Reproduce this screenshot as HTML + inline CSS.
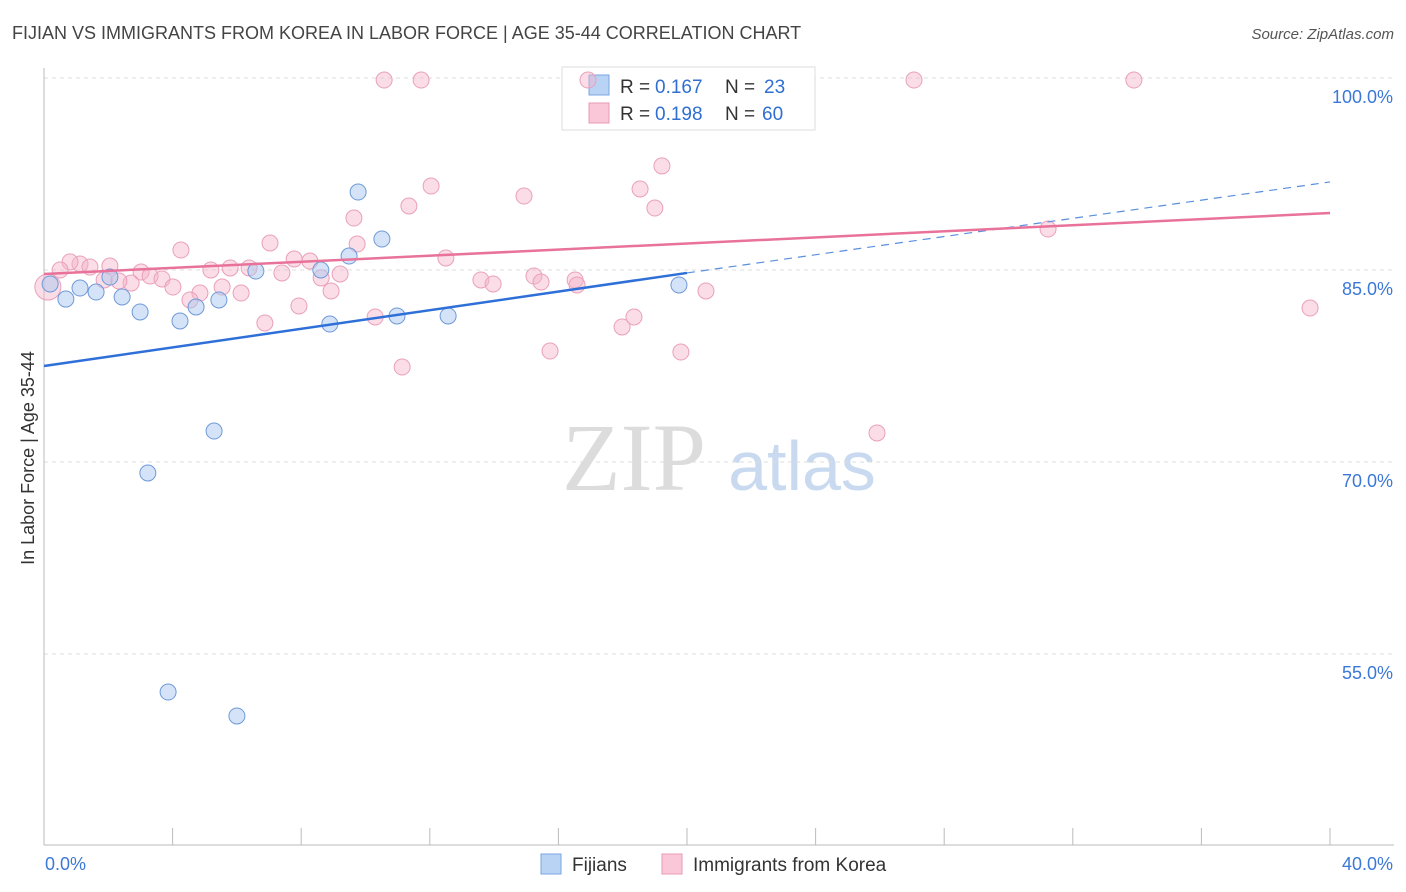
<!DOCTYPE html>
<html><head><meta charset="utf-8"><style>
body{margin:0;background:#fff;font-family:"Liberation Sans",sans-serif}
svg{display:block}
</style></head><body>
<svg id="chart" width="1406" height="892" viewBox="0 0 1406 892" xmlns="http://www.w3.org/2000/svg">
<text x="12" y="39" font-size="18" fill="#444">FIJIAN VS IMMIGRANTS FROM KOREA IN LABOR FORCE | AGE 35-44 CORRELATION CHART</text>
<text x="1394" y="39" font-size="15" fill="#555" text-anchor="end" font-style="italic">Source: ZipAtlas.com</text>
<g>
<text x="634" y="490" font-size="96" fill="#dcdcdc" text-anchor="middle" font-family="Liberation Serif, serif">ZIP</text>
<text x="802" y="490" font-size="70" fill="#c9daf0" text-anchor="middle">atlas</text>
</g>
<g id="grid"></g>
<g id="axes"></g>
<g>
<rect x="562" y="67" width="253" height="63" fill="#fff" stroke="#ddd"/>
<rect x="589" y="75" width="20" height="20" fill="#b9d3f5" stroke="#7aa6e0"/>
<rect x="589" y="103" width="20" height="20" fill="#f9c7d7" stroke="#e89ab4"/>
<text x="620" y="93" font-size="19" fill="#333">R =</text>
<text x="655" y="93" font-size="19" fill="#2f6fd1">0.167</text>
<text x="725" y="93" font-size="19" fill="#333">N =</text>
<text x="764" y="93" font-size="19" fill="#2f6fd1">23</text>
<text x="620" y="120" font-size="19" fill="#333">R =</text>
<text x="655" y="120" font-size="19" fill="#2f6fd1">0.198</text>
<text x="725" y="120" font-size="19" fill="#333">N =</text>
<text x="762" y="120" font-size="19" fill="#2f6fd1">60</text>
</g>
<g id="marks"></g>
<text transform="translate(34,458) rotate(-90)" font-size="18" fill="#333" text-anchor="middle">In Labor Force | Age 35-44</text>
<g>
<rect x="541" y="854" width="20" height="20" fill="#b9d3f5" stroke="#7aa6e0"/>
<text x="572" y="871" font-size="19" fill="#333">Fijians</text>
<rect x="662" y="854" width="20" height="20" fill="#f9c7d7" stroke="#e89ab4"/>
<text x="693" y="871" font-size="19" fill="#333">Immigrants from Korea</text>
</g>
</svg>
<script>
const xTicks=[0,4,8,12,16,20,24,28,32,36,40];
const yTicks=[100,85,70,55];
const yTickLabels=["100.0%","85.0%","70.0%","55.0%"];
const xEndLabels=["0.0%","40.0%"];
const fijianX=[0.68,1.12,1.62,2.05,2.43,2.99,4.23,4.73,5.29,3.23,3.86,6.0,5.44,6.59,8.61,8.89,9.49,9.77,10.51,10.98,12.57,19.75,0.19];
const fijianY=[82.73,83.59,83.28,84.45,82.89,81.72,81.02,82.11,72.42,69.14,52.03,50.16,82.66,84.92,85.0,80.78,86.09,91.09,87.42,81.41,81.41,83.83,83.91];
const koreaX=[10.58,11.73,16.92,27.06,33.9,12.04,19.22,18.54,14.93,19.0,11.35,9.64,9.74,7.03,4.26,12.5,7.78,8.27,6.38,5.79,5.19,2.05,1.12,1.43,0.81,0.5,3.02,3.30,3.67,2.71,2.33,4.01,4.85,5.54,6.13,4.54,7.40,8.62,9.21,8.93,7.93,6.87,10.30,11.14,13.59,13.97,15.24,15.46,16.52,16.58,18.35,17.98,15.74,19.81,20.59,25.91,31.23,39.38,0.12,1.87];
const koreaY=[99.84,99.84,99.84,99.84,99.84,91.56,93.13,91.33,90.78,89.84,90.0,89.06,87.03,87.11,86.56,85.94,85.86,85.70,85.16,85.16,85.0,85.31,85.47,85.23,85.63,85.0,84.84,84.53,84.3,83.98,84.14,83.67,83.2,83.67,83.2,82.66,84.77,84.38,84.69,83.36,82.19,80.86,81.33,77.42,84.22,83.91,84.53,84.06,84.22,83.83,81.33,80.55,78.67,78.59,83.36,72.27,88.2,82.03,83.67,84.22];
const fijianTrend=[[0,77.5],[20,84.77]];
const fijianTrendExt=[[20,84.77],[40,91.88]];
const koreaTrend=[[0,84.69],[40,89.45]];

const NS="http://www.w3.org/2000/svg";
const X=v=>44+v/40*1286;
const Y=v=>78+(100-v)*12.8;
function mk(tag,attrs,parent){const e=document.createElementNS(NS,tag);for(const k in attrs)e.setAttribute(k,attrs[k]);parent.appendChild(e);return e;}
const grid=document.getElementById('grid'),axes=document.getElementById('axes'),marks=document.getElementById('marks');
yTicks.forEach((t,i)=>{
 const l=mk('line',{x1:44,x2:1394,y1:Y(t),y2:Y(t),stroke:'#ddd','stroke-dasharray':'4,4'},grid);
 
 
 const tx=mk('text',{x:1393,y:Y(t)+25,'font-size':18,fill:'#3b78d8','text-anchor':'end'},axes);
 tx.textContent=yTickLabels[i];
 
 
});
const ax=mk('line',{x1:44,x2:1394,y1:845,y2:845,stroke:'#bbb'},axes);


const ay=mk('line',{x1:44,x2:44,y1:68,y2:845,stroke:'#bbb'},axes);


xTicks.forEach(t=>{
 const l=mk('line',{x1:X(t),x2:X(t),y1:828,y2:845,stroke:'#bbb'},axes);
 
 
});
[[0,'start',xEndLabels[0]],[40,'end',xEndLabels[1]]].forEach(([v,a,s])=>{
 const tx=mk('text',{x:X(v)+(v?63:1),y:870,'font-size':18,fill:'#3b78d8','text-anchor':a},axes);
 tx.textContent=s;
 
 
});
koreaX.forEach((v,i)=>{
 const c=mk('circle',{cx:X(v),cy:Y(koreaY[i]),r:(i===58?13:8),fill:'rgba(245,180,202,0.45)',stroke:'#eaa0ba','stroke-width':1},marks);
 
 
});
fijianX.forEach((v,i)=>{
 const c=mk('circle',{cx:X(v),cy:Y(fijianY[i]),r:8,fill:'rgba(170,200,240,0.5)',stroke:'#6f9ad8','stroke-width':1},marks);
 
 
});
function line(p,attrs,name){const l=mk('line',Object.assign({x1:X(p[0][0]),y1:Y(p[0][1]),x2:X(p[1][0]),y2:Y(p[1][1])},attrs),marks);
 
 }
line(fijianTrend,{stroke:'#2e6fd8','stroke-width':2.5},'fijian-trendline');
line(fijianTrendExt,{stroke:'#5a8fdd','stroke-width':1.2,'stroke-dasharray':'8,6'},'fijian-trendline-extension');
line(koreaTrend,{stroke:'#e8729a','stroke-width':2.5},'korea-trendline');
</script>
</body></html>
